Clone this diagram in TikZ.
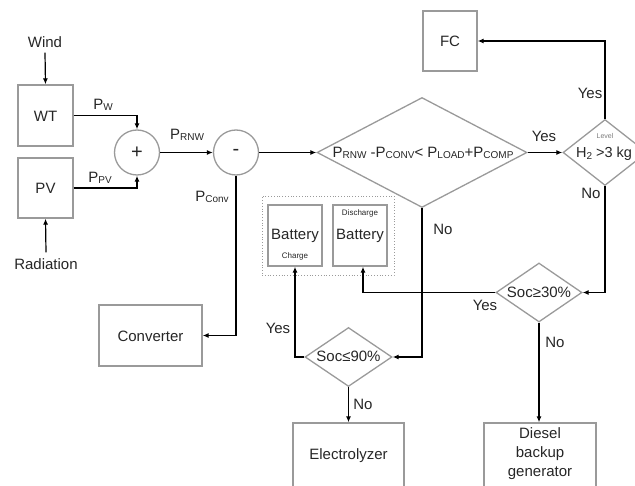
\documentclass[tikz,border=0pt]{standalone}
\usepackage{fontspec}
\setmainfont{Liberation Sans}
\usetikzlibrary{arrows.meta,shapes.geometric}
\definecolor{boxgray}{HTML}{9A9A9A}
\definecolor{txt}{HTML}{262626}
\newcommand\fs{\fontsize{15}{19}\selectfont}
\newcommand\smf{\fontsize{8}{9}\selectfont}
\newcommand\subt[1]{\raisebox{-1.5pt}{\fontsize{10}{10}\selectfont #1}}
\tikzset{
  box/.style={draw=boxgray, line width=1.3pt, inner sep=0pt, rectangle},
  dia/.style={diamond, draw=boxgray, line width=1.3pt, inner sep=0pt},
  circ/.style={circle, draw=boxgray, line width=1.3pt, inner sep=0pt, minimum size=45pt, font=\fontsize{20}{20}\selectfont, text=txt},
  arr/.style={-{Latex[length=6pt,width=5pt]}, line width=1.2pt, black},
  lbl/.style={font=\fs, inner sep=0pt, text=txt},
  small/.style={font=\smf, inner sep=0pt, text=txt}
}
\begin{document}
\begin{tikzpicture}[x=1pt,y=-1pt]
\useasboundingbox (0,0) rectangle (635,486);
\clip (0,0) rectangle (635,486);
% boxes
\node[box, minimum width=55pt, minimum height=61pt] (wt) at (45.5,115.5) {};
\node[lbl] (wtt) at (45.5,116) {WT};
\node[box, minimum width=55pt, minimum height=60pt] (pv) at (45.5,188) {};
\node[lbl] (pvt) at (45.5,188.5) {PV};
\node[box, minimum width=54pt, minimum height=60pt] (fc) at (450,41) {};
\node[lbl] (fct) at (450,41.5) {FC};
\node[box, minimum width=103pt, minimum height=61pt] (conv) at (150.5,335.5) {};
\node[lbl] (convt) at (150.5,336) {Converter};
\node[draw=boxgray, dotted, line width=0.8pt, minimum width=132pt, minimum height=79pt, inner sep=0pt] (grp) at (328,235.5) {};
\node[box, minimum width=54pt, minimum height=61pt] (bc) at (295,235.5) {};
\node[lbl] (bct) at (295,236) {Battery};
\node[small] (bcs) at (295,256) {Charge};
\node[box, minimum width=54pt, minimum height=61pt] (bd) at (360,235.5) {};
\node[lbl] (bdt) at (360,236) {Battery};
\node[small] (bds) at (360,213) {Discharge};
\node[box, minimum width=111pt, minimum height=64pt] (elec) at (348.5,455) {};
\node[lbl] (elect) at (348.5,456) {Electrolyzer};
\node[box, minimum width=112pt, minimum height=64pt] (dsl) at (540,455) {};
\node[lbl, align=center] (dslt) at (540,454) {Diesel\\backup\\generator};
% circles
\node[circ] (plus) at (137,152.5) {+};
\node[circ] (minus) at (236,152.5) {-};
% diamonds
\node[dia, minimum width=210pt, minimum height=110pt] (d1) at (422,152.5) {};
\node[lbl] (d1t) at (423,153) {P\subt{RNW} -P\subt{CONV}< P\subt{LOAD}+P\subt{COMP}};
\node[dia, minimum width=84pt, minimum height=66pt] (h2) at (605,152.5) {};
\node[small, font=\fontsize{7}{8}\selectfont, text=boxgray!80!black] (h2l) at (605,136) {Level};
\node[lbl, font=\fontsize{14.5}{17}\selectfont] (h2t) at (604,154) {H\subt{2} >3 kg};
\node[dia, minimum width=86pt, minimum height=59pt] (s30) at (539,292.5) {};
\node[lbl] (s30t) at (539,292) {Soc≥30\%};
\node[dia, minimum width=87pt, minimum height=59pt] (s90) at (348.5,357) {};
\node[lbl] (s90t) at (348.5,356.5) {Soc≤90\%};
% inputs
\node[lbl] (wind) at (45,42) {Wind};
\node[lbl] (rad) at (46,264) {Radiation};
% connectors
\draw[arr] ([yshift=-5pt]wind.south) -- (wt.north);
\draw[arr] ([yshift=6pt]rad.north) -- (pv.south);
\draw[arr] (wt.east) -| (plus.north);
\draw[arr] (pv.east) -| (plus.south);
\draw[arr] (plus.east) -- (minus.west);
\draw[arr] (minus.east) -- (d1.west);
\draw[arr] (minus.south) |- (conv.east);
\draw[arr] (d1.east) -- (h2.west);
\draw[arr] (h2.north) |- (fc.east);
\draw[arr] (h2.south) |- (s30.east);
\draw[arr] (d1.south) |- (s90.east);
\draw[arr] (s30.west) -| ([xshift=3pt]bd.south);
\draw[arr] (s90.west) -| (bc.south);
\draw[arr] (s30.south) -- (s30.south |- dsl.north);
\draw[arr] (s90.south) -- (s90.south |- elec.north);
% labels
\node[lbl] (lpw) at (103,105) {P\subt{W}};
\node[lbl] (lppv) at (100,178) {P\subt{PV}};
\node[lbl] (lprnw) at (187,135) {P\subt{RNW}};
\node[lbl] (lpconv) at (212,197) {P\subt{Conv}};
\node[lbl] (y1) at (544,136) {Yes};
\node[lbl] (y2) at (590,93) {Yes};
\node[lbl] (n1) at (591,193) {No};
\node[lbl] (n2) at (443,229) {No};
\node[lbl] (y3) at (485,305) {Yes};
\node[lbl] (n3) at (555,342) {No};
\node[lbl] (y4) at (278,328) {Yes};
\node[lbl] (n4) at (363,404) {No};
\end{tikzpicture}
\end{document}
